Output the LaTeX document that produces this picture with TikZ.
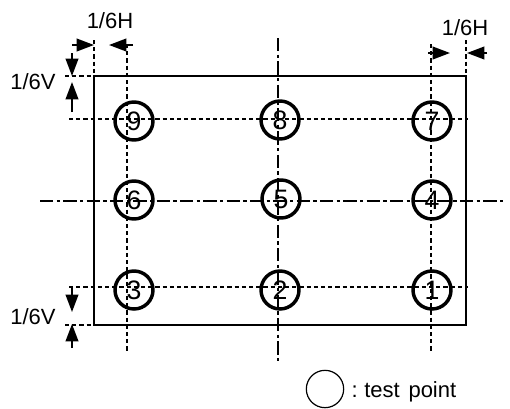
\documentclass[tikz,border=0pt]{standalone}
\usepackage{fontspec}
\setmainfont{Liberation Sans}
\usetikzlibrary{arrows.meta}

\tikzset{every picture/.style={line width=0.75pt}}
\tikzset{
	dimarrow/.style={-{Triangle[length=13pt,width=9.5pt]}, line width=1.3pt},
	gridline/.style={dash pattern=on 3.2pt off 2.2pt, line width=1.3pt},
	centreline/.style={dash pattern=on 10pt off 2.5pt on 2.5pt off 2.5pt, line width=1.5pt},
	testpoint/.style={draw, circle, line width=2.6pt, minimum size=28.5pt, inner sep=0pt, font=\fontsize{20}{20}\selectfont},
	dimlabel/.style={font=\fontsize{16.5}{16.5}\selectfont}
}

\begin{document}
\begin{tikzpicture}[x=0.75pt,y=0.75pt,yscale=-1,xscale=1]
	\useasboundingbox (0,0) rectangle (510,408);

	%Frame
	\draw [line width=2.1pt] (94,76) rectangle (466,325) ;

	%Centre lines
	\draw [centreline] (278,38) -- (278,362) ;
	\draw [centreline] (40,201) -- (506,201) ;

	%Grid lines
	\draw [gridline] (69,119) -- (468,119) ;
	\draw [gridline] (69,287) -- (468,287) ;
	\draw [gridline] (127,44) -- (127,353) ;
	\draw [gridline] (431,44) -- (431,353) ;

	%Extension lines
	\draw [gridline] (94,40) -- (94,76) ;
	\draw [gridline] (466,40) -- (466,76) ;
	\draw [gridline] (65,76) -- (94,76) ;
	\draw [gridline] (65,325) -- (94,325) ;

	%Dimension arrow ends
	\coordinate (hla) at (72,45) ;  \coordinate (hlb) at (94,45) ;
	\coordinate (hlc) at (133,45) ; \coordinate (hld) at (109,45) ;
	\coordinate (hra) at (428,53) ; \coordinate (hrb) at (450,53) ;
	\coordinate (hrc) at (487,53) ; \coordinate (hrd) at (467,53) ;
	\coordinate (vta) at (72,53) ;  \coordinate (vtb) at (72,76) ;
	\coordinate (vtc) at (72,112) ; \coordinate (vtd) at (72,82) ;
	\coordinate (vba) at (72,287) ; \coordinate (vbb) at (72,312) ;
	\coordinate (vbc) at (72,348) ; \coordinate (vbd) at (72,324) ;

	%Dimension arrows
	\draw [dimarrow] (hla) -- (hlb) ;
	\draw [dimarrow] (hlc) -- (hld) ;
	\draw [dimarrow] (hra) -- (hrb) ;
	\draw [dimarrow] (hrc) -- (hrd) ;
	\draw [dimarrow] (vta) -- (vtb) ;
	\draw [dimarrow] (vtc) -- (vtd) ;
	\draw [dimarrow] (vba) -- (vbb) ;
	\draw [dimarrow] (vbc) -- (vbd) ;

	% Text Node
	\node [dimlabel] (toplefth) at (110,21) {1/6H};
	% Text Node
	\node [dimlabel] (toprighth) at (465,28) {1/6H};
	% Text Node
	\node [dimlabel] (topv) at (33,82) {1/6V};
	% Text Node
	\node [dimlabel] (bottomv) at (33,317) {1/6V};

	%Test points
	\node [testpoint] (tp9) at (134,121) {9};
	\node [testpoint] (tp8) at (280,120) {8};
	\node [testpoint] (tp7) at (432,121) {7};
	\node [testpoint] (tp6) at (134,200) {6};
	\node [testpoint] (tp5) at (281,199) {5};
	\node [testpoint] (tp4) at (432,200) {4};
	\node [testpoint] (tp3) at (134,290) {3};
	\node [testpoint] (tp2) at (280,290) {2};
	\node [testpoint] (tp1) at (432,290) {1};

	%Legend
	\node [draw, circle, line width=0.9pt, minimum size=28pt, inner sep=0pt] (legend) at (325,389) {};
	\node [dimlabel, anchor=west, inner sep=0pt] (legendtext) at (351,392) {:\hspace{5pt}test\hspace{2pt} point};

\end{tikzpicture}
\end{document}
